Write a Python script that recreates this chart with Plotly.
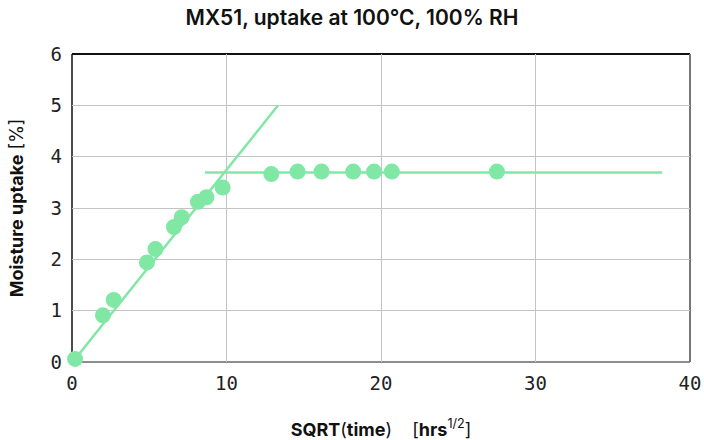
import plotly.graph_objects as go

# Measured data
sqrt_time = [0.2, 2.0, 2.7, 4.85, 5.4, 6.6, 7.1, 8.15, 8.7, 9.75, 12.9, 14.6, 16.15, 18.2, 19.55, 20.7, 27.5]
uptake = [0.06, 0.91, 1.21, 1.94, 2.20, 2.63, 2.82, 3.12, 3.21, 3.40, 3.66, 3.71, 3.71, 3.71, 3.71, 3.71, 3.71]

# Fit lines
diff_line_x = [0.2, 13.34]
diff_line_y = [0.06, 5.0]
plateau_x = [8.6, 38.2]
plateau_y = [3.69, 3.69]

x_ticks = [0, 10, 20, 30, 40]
y_ticks = [0, 1, 2, 3, 4, 5, 6]

green = "#80E8A4"

fig = go.Figure()
fig.add_trace(go.Scatter(x=diff_line_x, y=diff_line_y, mode="lines",
                         line=dict(color=green, width=2.5), showlegend=False, hoverinfo="skip"))
fig.add_trace(go.Scatter(x=plateau_x, y=plateau_y, mode="lines",
                         line=dict(color=green, width=2.5), showlegend=False, hoverinfo="skip"))
fig.add_trace(go.Scatter(x=sqrt_time, y=uptake, mode="markers",
                         marker=dict(color=green, size=16, line=dict(width=0)),
                         showlegend=False, cliponaxis=False))

tickfont = dict(family="DejaVu Sans Mono", size=19, color="#222")

fig.update_layout(
    width=704, height=440,
    margin=dict(l=72, r=14, t=54, b=78),
    paper_bgcolor="white", plot_bgcolor="white",
    title=dict(text="MX51, uptake at 100°C, 100% RH", x=0.5, xanchor="center",
               y=0.96, yanchor="middle",
               font=dict(family="Inter", size=21, color="#111", weight=600)),
    xaxis=dict(range=[0, 40], tickvals=x_ticks, ticktext=[str(v) for v in x_ticks],
               showgrid=True, gridcolor="#c4c4c4", gridwidth=1.3, zeroline=False,
               showline=False, ticks="", tickfont=tickfont, automargin=False,
               ticklabelstandoff=8,
               title=dict(text="<b>SQRT</b>(<b>time</b>)    [<b>hrs</b><sup>1/2</sup>]",
                          font=dict(family="Inter", size=18, color="#111"), standoff=34)),
    yaxis=dict(range=[0, 6], tickvals=y_ticks, ticktext=[str(v) for v in y_ticks],
               showgrid=True, gridcolor="#c4c4c4", gridwidth=1.3, zeroline=False,
               showline=False, ticks="", tickfont=tickfont, ticklabelstandoff=9,
               automargin=False,
               title=dict(text="<b>Moisture uptake</b> [%]",
                          font=dict(family="Inter", size=18, color="#111"), standoff=22)),
    shapes=[
        dict(type="line", xref="paper", yref="paper", x0=0, x1=1, y0=1, y1=1,
             line=dict(color="#111", width=2), layer="below"),
        dict(type="line", xref="paper", yref="paper", x0=0, x1=0, y0=0, y1=1,
             line=dict(color="#111", width=1.5), layer="below"),
        dict(type="line", xref="paper", yref="paper", x0=0, x1=1, y0=0, y1=0,
             line=dict(color="#666", width=1.5), layer="below"),
        dict(type="line", xref="paper", yref="paper", x0=1, x1=1, y0=0, y1=1,
             line=dict(color="#777", width=2), layer="below"),
    ],
)

fig.write_html("out.html")
